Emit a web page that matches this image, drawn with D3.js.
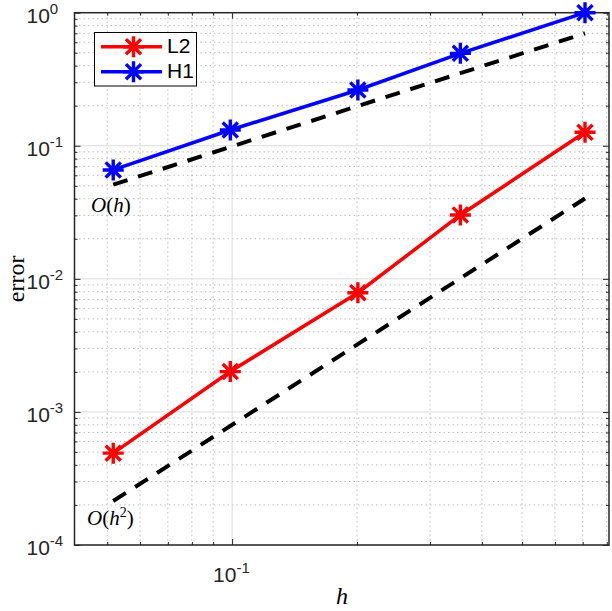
<!DOCTYPE html>
<html>
<head>
<meta charset="utf-8">
<script src="https://cdn.jsdelivr.net/npm/d3@7"></script>
<style>
  body { margin: 0; background: #fff; }
  svg { display: block; }
  .tick-label { font-family: "Liberation Sans", Arial, sans-serif; font-size: 21px; fill: #262626; }
  .tex { font-family: "Liberation Serif", "Times New Roman", serif; fill: #000; }
</style>
</head>
<body>
<div id="chart"></div>
<script>
// mesh sizes and errors
var hValues = [0.0517, 0.099, 0.201, 0.355, 0.709];
var errL2 = [4.9e-4, 2.01e-3, 7.87e-3, 0.0302, 0.1263];
var errH1 = [0.0658, 0.1314, 0.2625, 0.495, 1.0];
// reference slopes (dashed)
var refH = [0.051, 0.098, 0.199, 0.351, 0.70];
var refH2 = [2.14e-4, 7.84e-4, 3.23e-3, 1.01e-2, 4.02e-2];
var xTicks = [0.1];
var yTicks = [1e-4, 1e-3, 1e-2, 1e-1, 1];

var W = 612, H = 611;
var pL = 74.5, pR = 609, pT = 12.7, pB = 545;

var svg = d3.select("#chart").append("svg").attr("width", W).attr("height", H);

var x = d3.scaleLog().domain([0.0417, 0.81]).range([pL, pR]);
var y = d3.scaleLog().domain([1e-4, 1]).range([pB, pT]);

// minor values inside the domain
function minors(dom) {
  var out = [];
  for (var e = -5; e <= 1; e++) {
    for (var m = 2; m <= 9; m++) {
      var v = m * Math.pow(10, e);
      if (v > dom[0] && v < dom[1]) out.push(v);
    }
  }
  return out;
}
var xMinor = minors(x.domain());
var yMinor = minors(y.domain());

var grid = svg.append("g");
grid.selectAll(".xmin").data(xMinor).enter().append("line")
  .attr("x1", d => x(d)).attr("x2", d => x(d)).attr("y1", pT).attr("y2", pB)
  .attr("stroke", "#bdbdbd").attr("stroke-width", 1).attr("stroke-dasharray", "1.5,3");
grid.selectAll(".ymin").data(yMinor).enter().append("line")
  .attr("y1", d => y(d)).attr("y2", d => y(d)).attr("x1", pL).attr("x2", pR)
  .attr("stroke", "#bdbdbd").attr("stroke-width", 1).attr("stroke-dasharray", "1.5,3");
grid.selectAll(".xmaj").data(xTicks).enter().append("line")
  .attr("x1", d => x(d)).attr("x2", d => x(d)).attr("y1", pT).attr("y2", pB)
  .attr("stroke", "#dcdcdc").attr("stroke-width", 1);
grid.selectAll(".ymaj").data(yTicks).enter().append("line")
  .attr("y1", d => y(d)).attr("y2", d => y(d)).attr("x1", pL).attr("x2", pR)
  .attr("stroke", "#dcdcdc").attr("stroke-width", 1);

// axes, ticks inward
var axisColor = "#262626";
function styleAxis(g) {
  g.select(".domain").remove();
  g.selectAll(".tick line").attr("stroke", axisColor);
  g.selectAll(".tick text").remove();
}
svg.append("g").attr("transform", "translate(0," + pB + ")")
  .call(d3.axisBottom(x).tickValues(xTicks).tickSize(-6)).call(styleAxis);
svg.append("g").attr("transform", "translate(0," + pB + ")")
  .call(d3.axisBottom(x).tickValues(xMinor).tickSize(-3)).call(styleAxis);
svg.append("g").attr("transform", "translate(0," + pT + ")")
  .call(d3.axisTop(x).tickValues(xTicks).tickSize(-6)).call(styleAxis);
svg.append("g").attr("transform", "translate(0," + pT + ")")
  .call(d3.axisTop(x).tickValues(xMinor).tickSize(-3)).call(styleAxis);
svg.append("g").attr("transform", "translate(" + pL + ",0)")
  .call(d3.axisLeft(y).tickValues(yTicks).tickSize(-6)).call(styleAxis);
svg.append("g").attr("transform", "translate(" + pL + ",0)")
  .call(d3.axisLeft(y).tickValues(yMinor).tickSize(-3)).call(styleAxis);
svg.append("g").attr("transform", "translate(" + pR + ",0)")
  .call(d3.axisRight(y).tickValues(yTicks).tickSize(-6)).call(styleAxis);
svg.append("g").attr("transform", "translate(" + pR + ",0)")
  .call(d3.axisRight(y).tickValues(yMinor).tickSize(-3)).call(styleAxis);

svg.append("rect").attr("x", pL).attr("y", pT)
  .attr("width", pR - pL).attr("height", pB - pT)
  .attr("fill", "none").attr("stroke", axisColor).attr("stroke-width", 1.5);

// tick labels 10^k
function expLabel(sel, v) {
  var e = Math.round(Math.log10(v));
  sel.append("tspan").text("10");
  sel.append("tspan").attr("dy", -9).attr("font-size", 15).text(String(e));
}
yTicks.forEach(function(v) {
  var t = svg.append("text").attr("class", "tick-label")
    .attr("x", pL - 48).attr("y", y(v) + 10);
  expLabel(t, v);
});
xTicks.forEach(function(v) {
  var t = svg.append("text").attr("class", "tick-label")
    .attr("x", x(v) - 19).attr("y", pB + 37);
  expLabel(t, v);
});

// dashed reference lines
var line = d3.line().x((d, i) => x(hValues[i])).y(d => y(d));
[refH, refH2].forEach(function(r) {
  svg.append("path").attr("d", line(r)).attr("fill", "none")
    .attr("stroke", "#000").attr("stroke-width", 4).attr("stroke-dasharray", "15,11");
});

// data series
function star(g, cx, cy, col) {
  var r = 10.5, d = r * 0.72;
  var p = "M" + (cx - r) + "," + cy + "H" + (cx + r) +
          "M" + cx + "," + (cy - r) + "V" + (cy + r) +
          "M" + (cx - d) + "," + (cy - d) + "L" + (cx + d) + "," + (cy + d) +
          "M" + (cx - d) + "," + (cy + d) + "L" + (cx + d) + "," + (cy - d);
  g.append("path").attr("d", p).attr("stroke", col).attr("stroke-width", 3.4).attr("fill", "none");
}
var series = [{vals: errL2, color: "#ff0000", name: "L2"}, {vals: errH1, color: "#0000ff", name: "H1"}];
series.forEach(function(s) {
  var g = svg.append("g");
  g.append("path").attr("d", line(s.vals)).attr("fill", "none")
    .attr("stroke", s.color).attr("stroke-width", 3.5);
  s.vals.forEach(function(v, i) { star(g, x(hValues[i]), y(v), s.color); });
});

// labels (math style: italic letters, upright brackets)
function mathLabel(px, py, sup) {
  var t = svg.append("text").attr("class", "tex").attr("font-size", 21).attr("x", px).attr("y", py);
  t.append("tspan").attr("font-style", "italic").text("O");
  t.append("tspan").text("(");
  t.append("tspan").attr("font-style", "italic").text("h");
  if (sup) {
    t.append("tspan").attr("font-size", 14).attr("dy", -8).text(sup);
    t.append("tspan").attr("dy", 8).text(")");
  } else {
    t.append("tspan").text(")");
  }
}
mathLabel(91, 212, null);
mathLabel(87, 525, "2");

svg.append("text").attr("class", "tex").attr("font-style", "italic").attr("font-size", 24)
  .attr("text-anchor", "middle").attr("x", 342).attr("y", 604).text("h");
svg.append("text").attr("class", "tex").attr("font-size", 24)
  .attr("text-anchor", "middle")
  .attr("transform", "translate(24," + ((pT + pB) / 2) + ") rotate(-90)").text("error");

// legend
var lg = svg.append("g");
lg.append("rect").attr("x", 94.5).attr("y", 32.5).attr("width", 102).attr("height", 53.5)
  .attr("fill", "#fff").attr("stroke", "#000").attr("stroke-width", 1);
series.forEach(function(s, i) {
  var ly = 46.7 + i * 25;
  lg.append("line").attr("x1", 101).attr("x2", 162).attr("y1", ly).attr("y2", ly)
    .attr("stroke", s.color).attr("stroke-width", 3.5);
  star(lg, 133.5, ly, s.color);
  lg.append("text").attr("class", "tick-label").attr("font-size", 17)
    .style("fill", "#000").attr("x", 167).attr("y", ly + 6).text(s.name);
});
</script>
</body>
</html>
